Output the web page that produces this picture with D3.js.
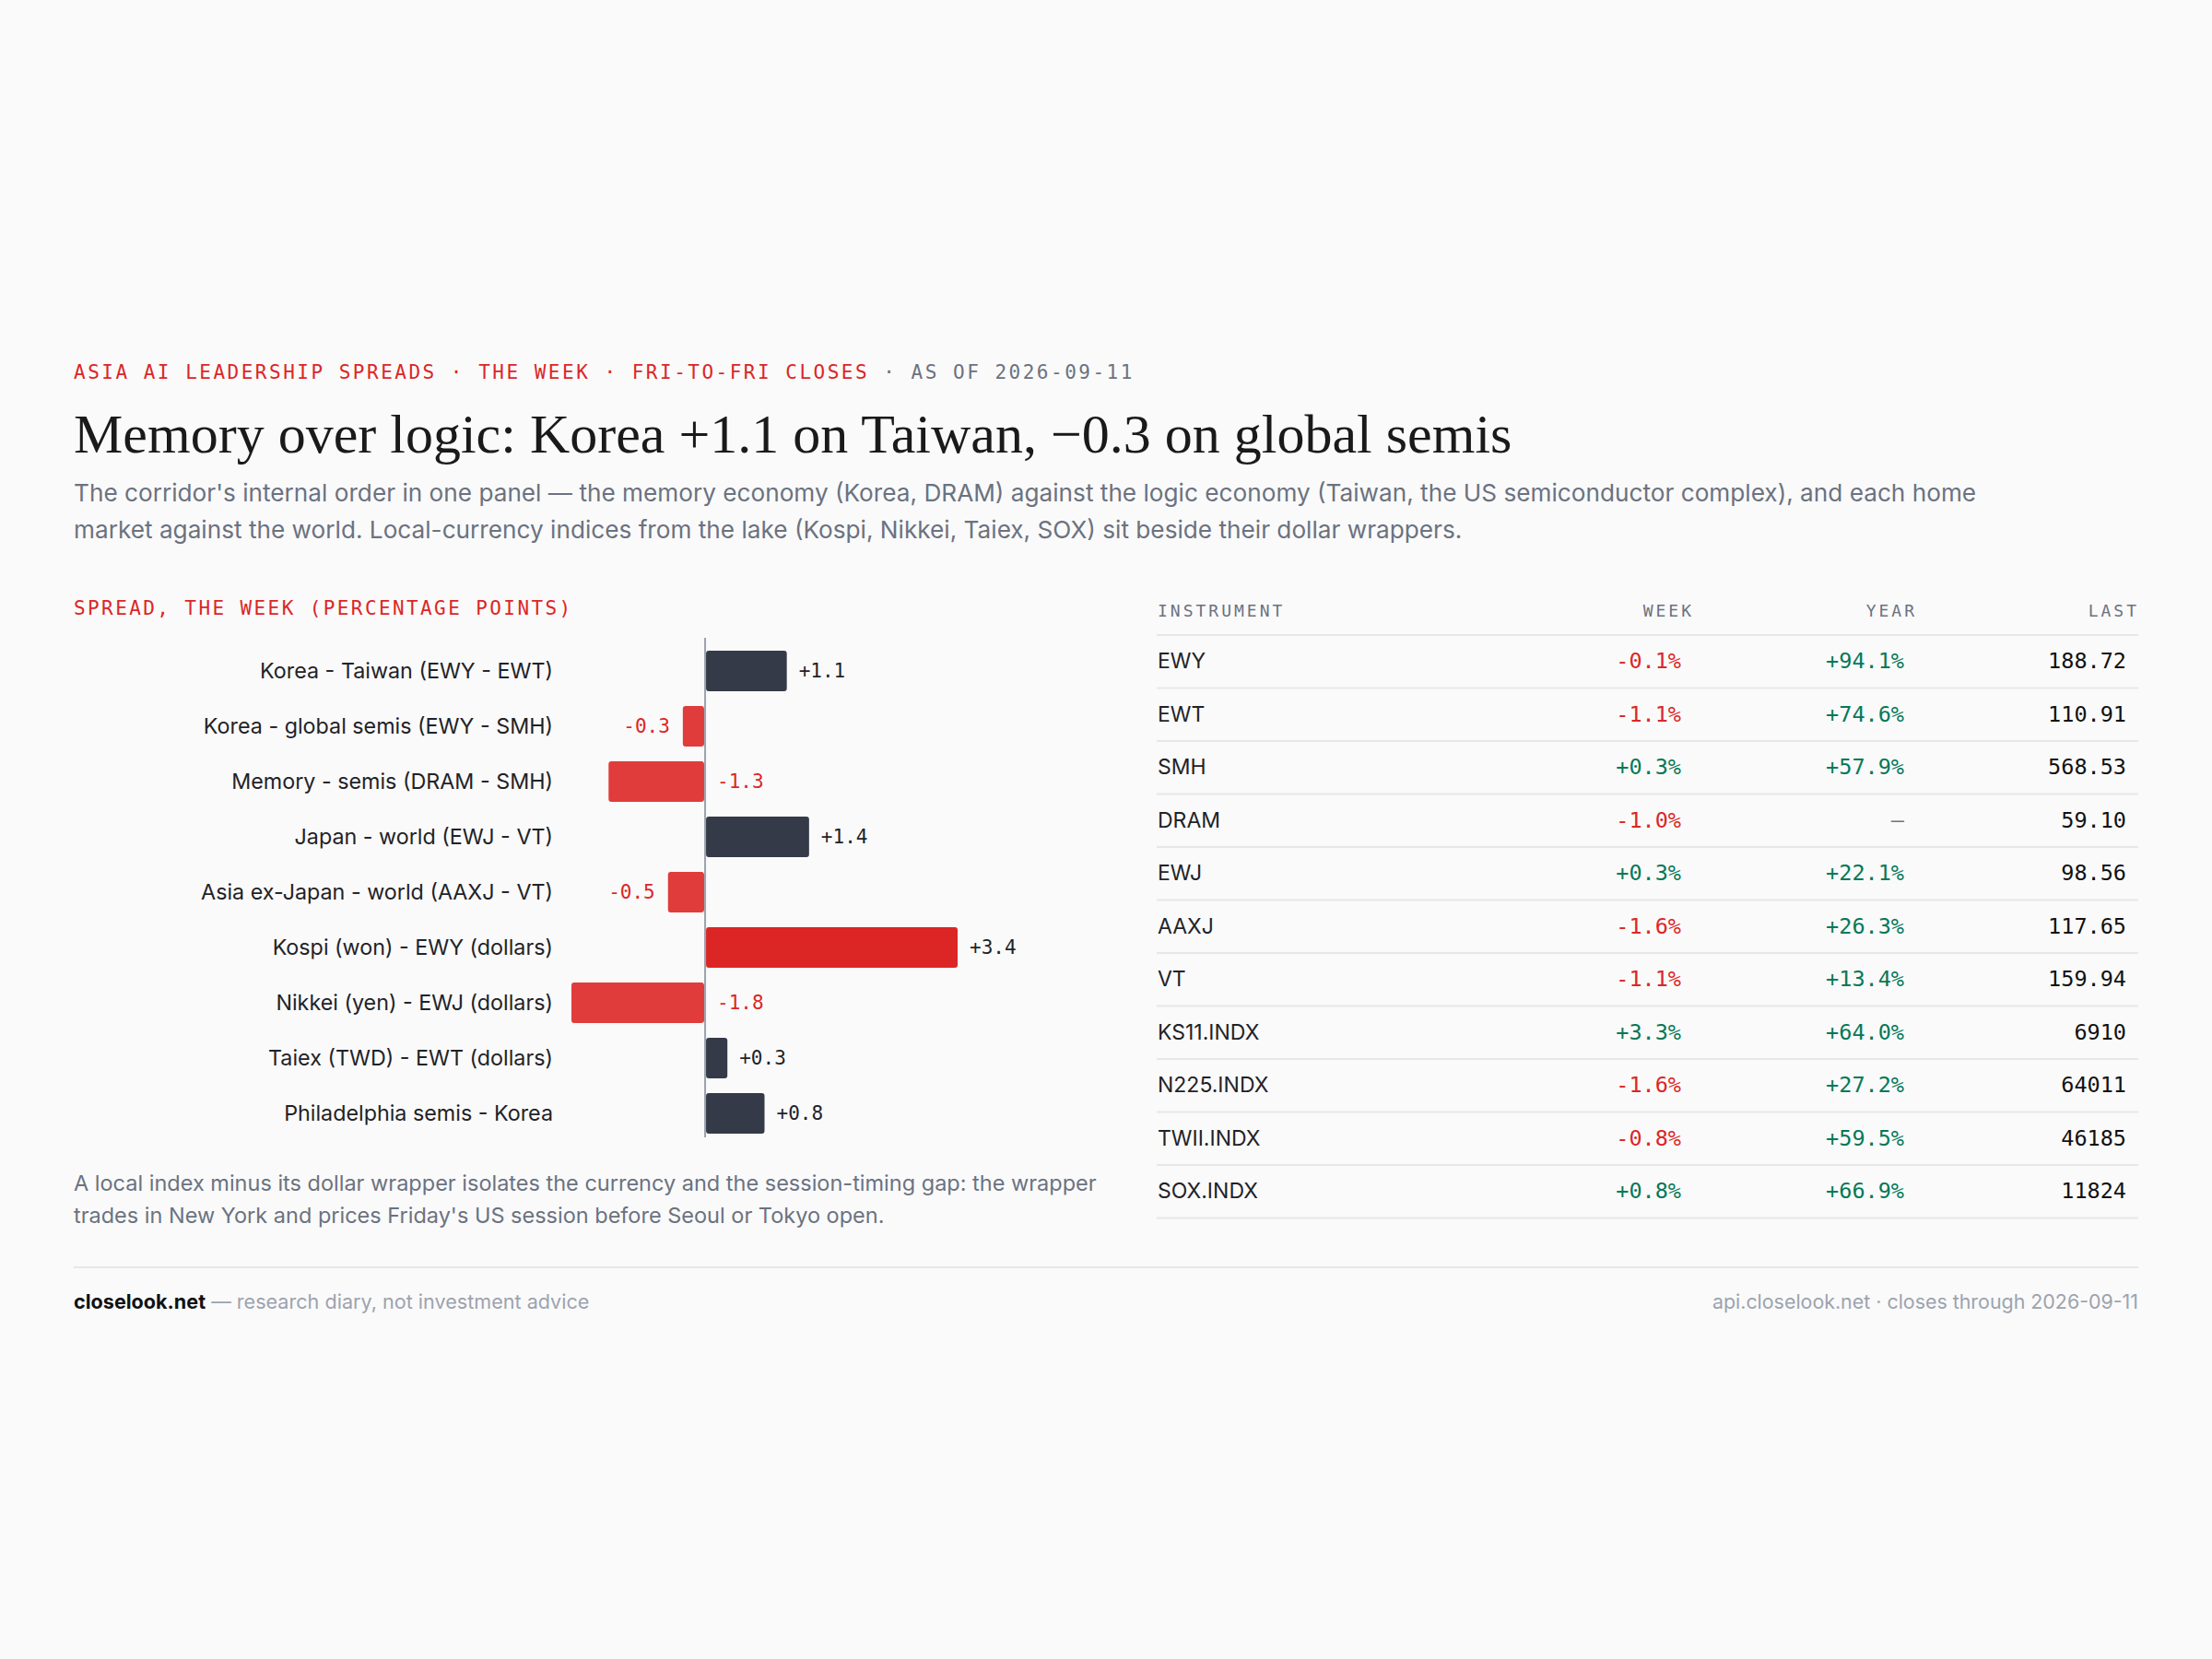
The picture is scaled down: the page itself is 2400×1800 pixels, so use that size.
<!DOCTYPE html>
<html><head><meta charset="utf-8">
<script src="https://cdn.jsdelivr.net/npm/d3@7"></script>
<style>
html,body{margin:0;padding:0;background:#fafafa;}
svg{display:block;}
</style></head>
<body>
<svg id="chart" width="2400" height="1800"></svg>
<script>
// ---------- data ----------
const spreadLabels = [
  "Korea - Taiwan (EWY - EWT)",
  "Korea - global semis (EWY - SMH)",
  "Memory - semis (DRAM - SMH)",
  "Japan - world (EWJ - VT)",
  "Asia ex-Japan - world (AAXJ - VT)",
  "Kospi (won) - EWY (dollars)",
  "Nikkei (yen) - EWJ (dollars)",
  "Taiex (TWD) - EWT (dollars)",
  "Philadelphia semis - Korea"
];
const spreadValues = [1.1, -0.3, -1.3, 1.4, -0.5, 3.4, -1.8, 0.3, 0.8];

const instruments = ["EWY","EWT","SMH","DRAM","EWJ","AAXJ","VT","KS11.INDX","N225.INDX","TWII.INDX","SOX.INDX"];
const weekChg = [-0.1, -1.1, 0.3, -1.0, 0.3, -1.6, -1.1, 3.3, -1.6, -0.8, 0.8];
const yearChg = [94.1, 74.6, 57.9, null, 22.1, 26.3, 13.4, 64.0, 27.2, 59.5, 66.9];
const lastPx  = [188.72, 110.91, 568.53, 59.10, 98.56, 117.65, 159.94, 6910, 64011, 46185, 11824];
const tableHeaders = ["INSTRUMENT","WEEK","YEAR","LAST"];

const eyebrowRed = "ASIA AI LEADERSHIP SPREADS · THE WEEK · FRI-TO-FRI CLOSES";
const eyebrowGray = " · AS OF 2026-09-11";
const titleText = "Memory over logic: Korea +1.1 on Taiwan, \u22120.3 on global semis";
const subtitleLines = [
  "The corridor's internal order in one panel \u2014 the memory economy (Korea, DRAM) against the logic economy (Taiwan, the US semiconductor complex), and each home",
  "market against the world. Local-currency indices from the lake (Kospi, Nikkei, Taiex, SOX) sit beside their dollar wrappers."
];
const panelLabel = "SPREAD, THE WEEK (PERCENTAGE POINTS)";
const footnoteLines = [
  "A local index minus its dollar wrapper isolates the currency and the session-timing gap: the wrapper",
  "trades in New York and prices Friday's US session before Seoul or Tokyo open."
];
const footerBrand = "closelook.net";
const footerNote = " \u2014 research diary, not investment advice";
const footerRight = "api.closelook.net \u00b7 closes through 2026-09-11";

// ---------- style ----------
const MONO = "'DejaVu Sans Mono', monospace";
const SANS = "Inter, 'Noto Sans', sans-serif";
const SERIF = "'Liberation Serif', 'DejaVu Serif', serif";
const RED = "#dc2626", RED_SOFT = "#e03c3c", DARK_BAR = "#343a47", GREEN = "#047857";
const INK = "#1f2328", MUTED = "#6b7280", FAINT = "#9ca3af", RULE = "#e5e7eb";

const svg = d3.select("#chart");
const L = 80, R = 2320;

// eyebrow
const eb = svg.append("text").attr("x", L).attr("y", 411)
  .attr("font-family", MONO).attr("font-size", 21).attr("letter-spacing", 2.5);
eb.append("tspan").attr("fill", RED).text(eyebrowRed);
eb.append("tspan").attr("fill", MUTED).text(eyebrowGray);

// title
svg.append("text").attr("x", L).attr("y", 491)
  .attr("font-family", SERIF).attr("font-size", 60).attr("fill", "#1a1a1a")
  .text(titleText);

// subtitle
svg.append("g").selectAll("text").data(subtitleLines).join("text")
  .attr("x", L).attr("y", (d, i) => 544 + i * 40)
  .attr("font-family", SANS).attr("font-size", 26.2).attr("fill", MUTED)
  .text(d => d);

// panel label
svg.append("text").attr("x", L).attr("y", 667)
  .attr("font-family", MONO).attr("font-size", 21).attr("letter-spacing", 2.4)
  .attr("fill", RED).text(panelLabel);

// ---------- bar chart ----------
const x = d3.scaleLinear().domain(d3.extent(spreadValues)).range([620, 1039]);
const y = d3.scaleBand().domain(spreadLabels).range([698, 1238]).paddingInner(0.27).paddingOuter(0.135);
const maxAbs = d3.max(spreadValues, v => Math.abs(v));
const rows = spreadLabels.map((l, i) => ({label: l, v: spreadValues[i]}));
const gBars = svg.append("g");

gBars.selectAll("rect").data(rows).join("rect")
  .attr("x", d => d.v >= 0 ? x(0) + 1 : x(d.v))
  .attr("width", d => Math.abs(x(d.v) - x(0)) - 1)
  .attr("y", d => y(d.label))
  .attr("height", y.bandwidth())
  .attr("rx", 3)
  .attr("fill", d => Math.abs(d.v) === maxAbs ? RED : (d.v < 0 ? RED_SOFT : DARK_BAR));

gBars.append("line").attr("x1", x(0)).attr("x2", x(0)).attr("y1", 692).attr("y2", 1234)
  .attr("stroke", FAINT).attr("stroke-width", 2);

// category labels (axis)
const yAxis = d3.axisLeft(y).tickSize(0).tickPadding(0);
const gAxis = svg.append("g").attr("transform", "translate(600,0)").call(yAxis);
gAxis.select(".domain").remove();
gAxis.selectAll("text").attr("font-family", SANS).attr("font-size", 23.3).attr("fill", INK)
  .attr("dy", "0.35em");

// value labels
const fmtSpread = v => (v > 0 ? "+" : "-") + Math.abs(v).toFixed(1);
gBars.selectAll("text.val").data(rows).join("text").attr("class", "val")
  .attr("font-family", MONO).attr("font-size", 21)
  .attr("y", d => y(d.label) + y.bandwidth() / 2).attr("dy", "0.35em")
  .each(function(d) {
    const t = d3.select(this);
    if (d.v >= 0) {
      t.attr("x", x(d.v) + 13).attr("text-anchor", "start").attr("fill", INK);
    } else if (d.v > -1) {
      t.attr("x", x(d.v) - 14).attr("text-anchor", "end").attr("fill", RED);
    } else {
      t.attr("x", x(0) + 13).attr("text-anchor", "start").attr("fill", RED);
    }
  })
  .text(d => fmtSpread(d.v));

// footnote
svg.append("g").selectAll("text").data(footnoteLines).join("text")
  .attr("x", L).attr("y", (d, i) => 1292 + i * 35)
  .attr("font-family", SANS).attr("font-size", 23.5).attr("fill", MUTED)
  .text(d => d);

// ---------- table ----------
const colX = {INSTRUMENT: 1256, WEEK: 1824, YEAR: 2066, LAST: 2307};
const headX = {INSTRUMENT: 1256, WEEK: 1838, YEAR: 2080, LAST: 2321};
const ty = d3.scaleBand().domain(instruments).range([689, 1321.5]);
const gT = svg.append("g");

gT.selectAll("text.h").data(tableHeaders).join("text").attr("class", "h")
  .attr("x", d => headX[d]).attr("y", 669)
  .attr("text-anchor", d => d === "INSTRUMENT" ? "start" : "end")
  .attr("font-family", MONO).attr("font-size", 18).attr("letter-spacing", 3)
  .attr("fill", MUTED).text(d => d);

gT.selectAll("line").data([null, ...instruments]).join("line")
  .attr("x1", 1255).attr("x2", R)
  .attr("y1", d => d === null ? 689 : ty(d) + ty.bandwidth())
  .attr("y2", d => d === null ? 689 : ty(d) + ty.bandwidth())
  .attr("stroke", RULE).attr("stroke-width", 2);

const fmtPct = v => (v >= 0 ? "+" : "-") + Math.abs(v).toFixed(1) + "%";
const fmtLast = v => v >= 1000 ? d3.format("d")(v) : v.toFixed(2);
const tRows = instruments.map((n, i) => ({n, w: weekChg[i], yv: yearChg[i], last: lastPx[i]}));
const rowG = gT.selectAll("g.row").data(tRows).join("g").attr("class", "row")
  .attr("transform", d => `translate(0,${ty(d.n) + 36})`);
rowG.append("text").attr("x", colX.INSTRUMENT)
  .attr("font-family", SANS).attr("font-size", 23).attr("fill", INK).text(d => d.n);
rowG.append("text").attr("x", colX.WEEK).attr("text-anchor", "end")
  .attr("font-family", MONO).attr("font-size", 23.5)
  .attr("fill", d => d.w < 0 ? RED : GREEN).text(d => fmtPct(d.w));
rowG.append("text").attr("x", colX.YEAR).attr("text-anchor", "end")
  .attr("font-family", MONO).attr("font-size", 23.5)
  .attr("fill", d => d.yv === null ? MUTED : (d.yv < 0 ? RED : GREEN))
  .text(d => d.yv === null ? "\u2013" : fmtPct(d.yv));
rowG.append("text").attr("x", colX.LAST).attr("text-anchor", "end")
  .attr("font-family", MONO).attr("font-size", 23.5).attr("fill", "#111")
  .text(d => fmtLast(d.last));

// ---------- footer ----------
svg.append("line").attr("x1", L).attr("x2", R).attr("y1", 1375).attr("y2", 1375)
  .attr("stroke", RULE).attr("stroke-width", 2);
const fl = svg.append("text").attr("x", L).attr("y", 1420)
  .attr("font-family", SANS).attr("font-size", 21.6);
fl.append("tspan").attr("font-weight", 700).attr("fill", "#111").text(footerBrand);
fl.append("tspan").attr("fill", FAINT).text(footerNote);
svg.append("text").attr("x", R).attr("y", 1420).attr("text-anchor", "end")
  .attr("font-family", SANS).attr("font-size", 21.4).attr("fill", FAINT).text(footerRight);
</script>
</body></html>
